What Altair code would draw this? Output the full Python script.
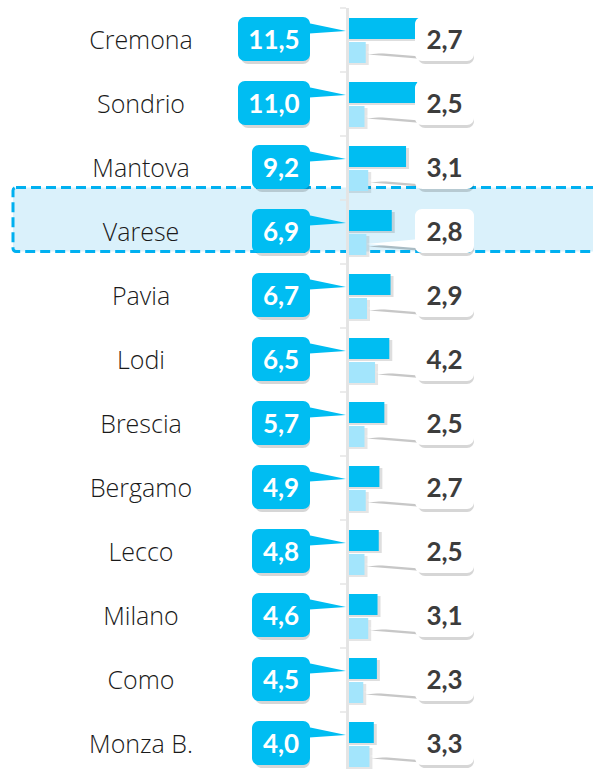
import altair as alt
import pandas as pd

# ---- data ----
cats = ["Cremona", "Sondrio", "Mantova", "Varese", "Pavia", "Lodi",
        "Brescia", "Bergamo", "Lecco", "Milano", "Como", "Monza B."]
dark_vals = [11.5, 11.0, 9.2, 6.9, 6.7, 6.5, 5.7, 4.9, 4.8, 4.6, 4.5, 4.0]
light_vals = [2.7, 2.5, 3.1, 2.8, 2.9, 4.2, 2.5, 2.7, 2.5, 3.1, 2.3, 3.3]
highlight_cat = "Varese"


def fmt(v):
    return f"{v:.1f}".replace(".", ",")


df = pd.DataFrame({
    "cat": cats,
    "dark": dark_vals,
    "light": light_vals,
    "dlabel": [fmt(v) for v in dark_vals],
    "llabel": [fmt(v) for v in light_vals],
    "zero": [0.0] * len(cats),
})

# ---- style ----
DARK = "#00BDF2"
LIGHT = "#A3E5FC"
HL_FILL = "#DAF1FB"
HL_STROKE = "#00B0F0"
GRAY_TXT = "#3C3C3C"
AXIS_C = "#E4E4E4"
W, H = 593, 768
AXIS_X = 349
PX = 6.2  # pixels per unit
x_scale = alt.Scale(domain=[-AXIS_X / PX, (W - AXIS_X) / PX], nice=False, zero=False)
y_enc = alt.Y("cat:N", sort=cats, axis=None,
              scale=alt.Scale(paddingInner=0, paddingOuter=0))
DBOX_R = 310      # right edge of dark label boxes
WBOX_L, WBOX_R = 415, 474

base = alt.Chart(df)

hl = base.transform_filter(alt.datum.cat == highlight_cat).mark_rect(
    color=HL_FILL, stroke=HL_STROKE, strokeWidth=3, strokeDash=[10, 5],
    cornerRadius=3, yOffset=-12.5
).encode(y=y_enc, x=alt.value(13), x2=alt.value(640))

axis_line = base.mark_rule(color=AXIS_C, strokeWidth=2.5).encode(x=alt.value(347.5))
ticks = base.mark_rule(color=AXIS_C, strokeWidth=1.5, yOffset=-32).encode(
    y=y_enc, x=alt.value(340), x2=alt.value(346))

bar_kw = dict(orient="horizontal", size=21)
dark_sh = base.mark_bar(color="#000", opacity=0.13, yOffset=-9.5, xOffset=3, **bar_kw).encode(
    y=y_enc, x=alt.X("dark:Q", scale=x_scale, axis=None), x2="zero:Q")
light_sh = base.mark_bar(color="#000", opacity=0.10, yOffset=14.5, xOffset=3, **bar_kw).encode(
    y=y_enc, x=alt.X("light:Q", scale=x_scale, axis=None), x2="zero:Q")
dark_bar = base.mark_bar(color=DARK, yOffset=-11.5, **bar_kw).encode(
    y=y_enc, x=alt.X("dark:Q", scale=x_scale, axis=None), x2="zero:Q")
light_bar = base.mark_bar(color=LIGHT, yOffset=12.5, **bar_kw).encode(
    y=y_enc, x=alt.X("light:Q", scale=x_scale, axis=None), x2="zero:Q")

# dark callout pointer (tip at axis)
dwedge = base.mark_point(shape="M0,0 L-2,-0.42 L-2,0.14 Z", filled=True, opacity=1,
                         strokeWidth=0, color=DARK, size=1936, yOffset=-9, xOffset=-3).encode(
    y=y_enc, x=alt.X("zero:Q", scale=x_scale, axis=None))

# dark label boxes
dcalc = base.transform_calculate(
    dbw="14*length(datum.dlabel)+16",
).transform_calculate(
    dbx=f"{DBOX_R} - datum.dbw", dbr=f"{DBOX_R}", dtx=f"{DBOX_R} - datum.dbw/2")
dbox_sh = dcalc.mark_bar(color="#000", opacity=0.16, size=44, cornerRadius=7,
                         orient="horizontal", yOffset=2, xOffset=3).encode(
    y=y_enc, x=alt.X("dbx:Q", scale=None), x2="dbr:Q")
dbox = dcalc.mark_bar(color=DARK, size=44, cornerRadius=7, orient="horizontal", yOffset=-1).encode(
    y=y_enc, x=alt.X("dbx:Q", scale=None), x2="dbr:Q")
dtext = dcalc.mark_text(font="Lato", fontWeight="bold", fontSize=26, color="white",
                        align="center", baseline="middle", dy=1).encode(
    y=y_enc, x=alt.X("dtx:Q", scale=None), text="dlabel:N")

# white callout pointer (tip at light bar end)
wshape = "M0,0 L2,-0.19 L2,0.16 Z"
wwedge_sh = base.mark_point(shape=wshape, filled=True, opacity=0.22, strokeWidth=0,
                            color="#000", size=6400, yOffset=14.5, xOffset=2).encode(
    y=y_enc, x=alt.X("light:Q", scale=x_scale, axis=None))
wwedge = base.mark_point(shape=wshape, filled=True, opacity=1, strokeWidth=0,
                         color="white", size=6400, yOffset=12).encode(
    y=y_enc, x=alt.X("light:Q", scale=x_scale, axis=None))

wbox_sh = base.mark_bar(color="#000", opacity=0.16, size=44, cornerRadius=7,
                        orient="horizontal", yOffset=2, xOffset=3).encode(
    y=y_enc, x=alt.value(WBOX_L), x2=alt.value(WBOX_R))
wbox = base.mark_bar(color="white", size=44, cornerRadius=7, orient="horizontal", yOffset=-1).encode(
    y=y_enc, x=alt.value(WBOX_L), x2=alt.value(WBOX_R))
wtext = base.mark_text(font="Lato", fontWeight="bold", fontSize=26, color=GRAY_TXT,
                       align="center", baseline="middle", dy=1).encode(
    y=y_enc, x=alt.value((WBOX_L + WBOX_R) / 2), text="llabel:N")

cat_text = base.mark_text(font="Open Sans", fontWeight=300, fontSize=25, color="#1A1A1A",
                          align="center", baseline="middle", dy=1).encode(
    y=y_enc, x=alt.value(141), text="cat:N")

chart = alt.layer(
    hl, axis_line, ticks,
    dark_sh, light_sh, dark_bar, light_bar,
    dwedge, dbox_sh, dbox, dtext,
    wwedge_sh, wwedge, wbox_sh, wbox, wtext,
    cat_text,
).properties(
    width=W, height=H,
    background="white",
    autosize=alt.AutoSizeParams(type="none"),
    padding={"top": 8, "left": 0, "right": 0, "bottom": 0},
).configure_view(strokeWidth=0, stroke=None)

chart.save("out.html", embed_options={"renderer": "svg", "actions": False})
